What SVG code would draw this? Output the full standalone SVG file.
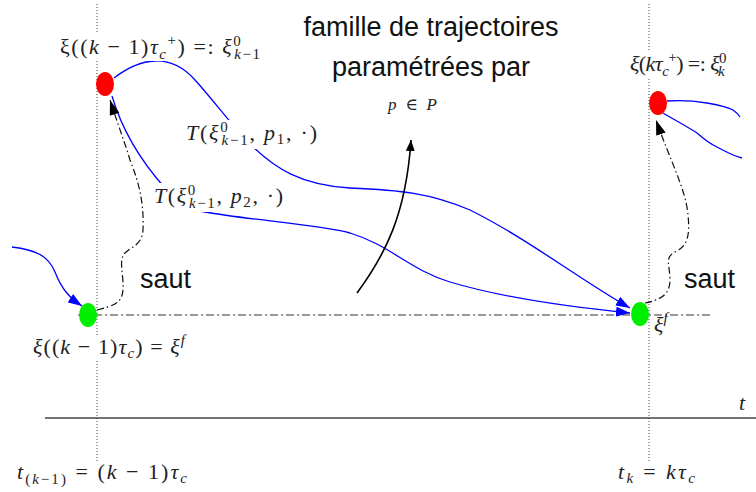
<svg xmlns="http://www.w3.org/2000/svg" width="756" height="492" viewBox="0 0 756 492">
<style>
.m{font-family:"Liberation Serif","DejaVu Serif",serif;font-size:22px;fill:#222}
.i{font-style:italic}
.sm{font-size:15px}
.sans{font-family:"Liberation Sans",Arial,sans-serif;font-size:27px;fill:#111}
.blue{fill:none;stroke:#0000ff;stroke-width:1.3}
.dd{fill:none;stroke:#111;stroke-width:1.2;stroke-dasharray:7,3,1.5,3}
.dot{fill:none;stroke:#444;stroke-width:1;stroke-dasharray:1,2}
.bg{fill:#fff}
</style>
<defs>
<marker id="ab" markerUnits="userSpaceOnUse" markerWidth="14" markerHeight="10" refX="14" refY="5" orient="auto"><path d="M0,0 L14,5 L0,10 z" fill="#0000ff"/></marker>
<marker id="ak" markerUnits="userSpaceOnUse" markerWidth="15" markerHeight="10" refX="15" refY="5" orient="auto"><path d="M0,0 L15,5 L0,10 z" fill="#000"/></marker>
<marker id="ak2" markerUnits="userSpaceOnUse" markerWidth="11" markerHeight="9" refX="11" refY="4.5" orient="auto"><path d="M0,0 L11,4.5 L0,9 z" fill="#000"/></marker>
</defs>
<rect width="756" height="492" fill="#fff"/>

<g id="axes">
<line x1="97" y1="4" x2="97" y2="463" class="dot"/>
<line x1="649" y1="4" x2="649" y2="461" class="dot"/>
<line x1="45" y1="418" x2="756" y2="418" stroke="#444" stroke-width="1.6"/>
<line x1="78" y1="315" x2="712" y2="315" stroke="#333" stroke-width="1" stroke-dasharray="8,3,2,3"/>
</g>

<g id="connectors">
<path class="blue" d="M114,78 C140,58 170,52 195,80 C215,102 232,126 252,146 C275,168 300,185 350,188 C400,190 430,193 470,210 C530,240 580,280 630,308" marker-end="url(#ab)"/>
<path class="blue" d="M112,96 C122,130 140,160 165,188 C180,203 190,210 205,212 C250,220 320,225 350,233 C390,245 410,270 450,282 C500,297 570,307 630,313" marker-end="url(#ab)"/>
<path class="blue" d="M12,247 C35,250 48,255 55,272 C62,290 70,298 82,306" marker-end="url(#ab)"/>
<path class="blue" d="M667,101 C680,100 695,101 707,103 C718,105 728,107 733,110 C736,112 738,114 740,117"/>
<path class="blue" d="M663,113 C675,120 688,127 697,133 C705,140 710,144 717,147 C726,152 734,156 742,158"/>
<path class="dd" d="M97,310 C112,306 122,304 123,290 C124,275 118,260 125,253 C132,246 142,245 143,230 C144,205 140,185 130,160 C124,140 117,122 110,100" marker-end="url(#ak)"/>
<path class="dd" d="M645,303 C660,300 670,295 670,280 C670,265 664,258 675,252 C688,246 690,235 688,215 C686,190 670,160 656,120" marker-end="url(#ak)"/>
<path d="M357,293 C385,255 406,215 411,140" fill="none" stroke="#000" stroke-width="1.6" marker-end="url(#ak2)"/>
</g>

<g id="xi-k1-plus"><ellipse cx="105" cy="84" rx="9" ry="12" fill="#ff0000"/></g>
<g id="xi-k1-f"><ellipse cx="88" cy="315" rx="9" ry="12" fill="#00ee00"/></g>
<g id="xi-k-plus"><ellipse cx="658" cy="103" rx="9" ry="12" fill="#ff0000"/></g>
<g id="xi-k-f"><ellipse cx="640" cy="314" rx="9" ry="12" fill="#00ee00"/></g>

<g id="labels">
<rect class="bg" x="60" y="33" width="204" height="28"/>
<text x="60" y="54" class="m" textLength="200" lengthAdjust="spacing">ξ((<tspan class="i">k</tspan> − 1)<tspan class="i">τ</tspan><tspan class="i sm" dy="5">c</tspan><tspan class="sm" dy="-14">+</tspan><tspan dy="9">) =: </tspan><tspan class="i">ξ</tspan><tspan class="sm" dy="-8">0</tspan><tspan class="sm i" dx="-8" dy="13">k</tspan><tspan class="sm">−1</tspan></text>

<rect class="bg" x="630" y="50" width="98" height="28"/>
<text x="630" y="71" class="m" textLength="96" lengthAdjust="spacing"><tspan class="i">ξ</tspan>(<tspan class="i">kτ</tspan><tspan class="i sm" dy="5">c</tspan><tspan class="sm" dy="-14">+</tspan><tspan dy="9">) =: </tspan><tspan class="i">ξ</tspan><tspan class="sm" dy="-8">0</tspan><tspan class="sm i" dx="-8" dy="13">k</tspan></text>

<rect class="bg" x="184" y="120" width="137" height="29"/>
<text x="186" y="140" class="m" textLength="131" lengthAdjust="spacing"><tspan class="i">T</tspan>(<tspan class="i">ξ</tspan><tspan class="sm" dy="-8">0</tspan><tspan class="sm i" dx="-8" dy="13">k</tspan><tspan class="sm">−1</tspan><tspan dy="-5">, </tspan><tspan class="i">p</tspan><tspan class="sm" dy="4">1</tspan><tspan dy="-4">, ·)</tspan></text>

<rect class="bg" x="152" y="183" width="134" height="29"/>
<text x="154" y="203" class="m" textLength="129" lengthAdjust="spacing"><tspan class="i">T</tspan>(<tspan class="i">ξ</tspan><tspan class="sm" dy="-8">0</tspan><tspan class="sm i" dx="-8" dy="13">k</tspan><tspan class="sm">−1</tspan><tspan dy="-5">, </tspan><tspan class="i">p</tspan><tspan class="sm" dy="4">2</tspan><tspan dy="-4">, ·)</tspan></text>

<text x="431" y="36" class="sans" text-anchor="middle">famille de trajectoires</text>
<text x="431" y="76" class="sans" text-anchor="middle">paramétrées par</text>
<text x="388" y="110" class="m" style="font-size:17px" textLength="49" lengthAdjust="spacing"><tspan class="i">p</tspan> ∈ <tspan class="i">P</tspan></text>

<text x="140" y="288" class="sans">saut</text>
<text x="684" y="288" class="sans">saut</text>

<rect class="bg" x="32" y="336" width="158" height="25"/>
<text x="33" y="354" class="m" textLength="152" lengthAdjust="spacing"><tspan class="i">ξ</tspan>((<tspan class="i">k</tspan> − 1)<tspan class="i">τ</tspan><tspan class="i sm" dy="4">c</tspan><tspan dy="-4">) = </tspan><tspan class="i">ξ</tspan><tspan class="i sm" dy="-9">f</tspan></text>

<text x="654" y="332" class="m"><tspan class="i">ξ</tspan><tspan class="i sm" dy="-9">f</tspan></text>

<text x="739" y="410" class="m i">t</text>

<text x="17" y="479" class="m" textLength="170" lengthAdjust="spacing"><tspan class="i">t</tspan><tspan class="sm" dy="5">(<tspan class="i">k</tspan>−1)</tspan><tspan dy="-5"> = (</tspan><tspan class="i">k</tspan> − 1)<tspan class="i">τ</tspan><tspan class="i sm" dy="4">c</tspan></text>
<text x="618" y="479" class="m" textLength="77" lengthAdjust="spacing"><tspan class="i">t</tspan><tspan class="i sm" dy="4">k</tspan><tspan dy="-4"> = </tspan><tspan class="i">kτ</tspan><tspan class="i sm" dy="4">c</tspan></text>
</g>
</svg>
